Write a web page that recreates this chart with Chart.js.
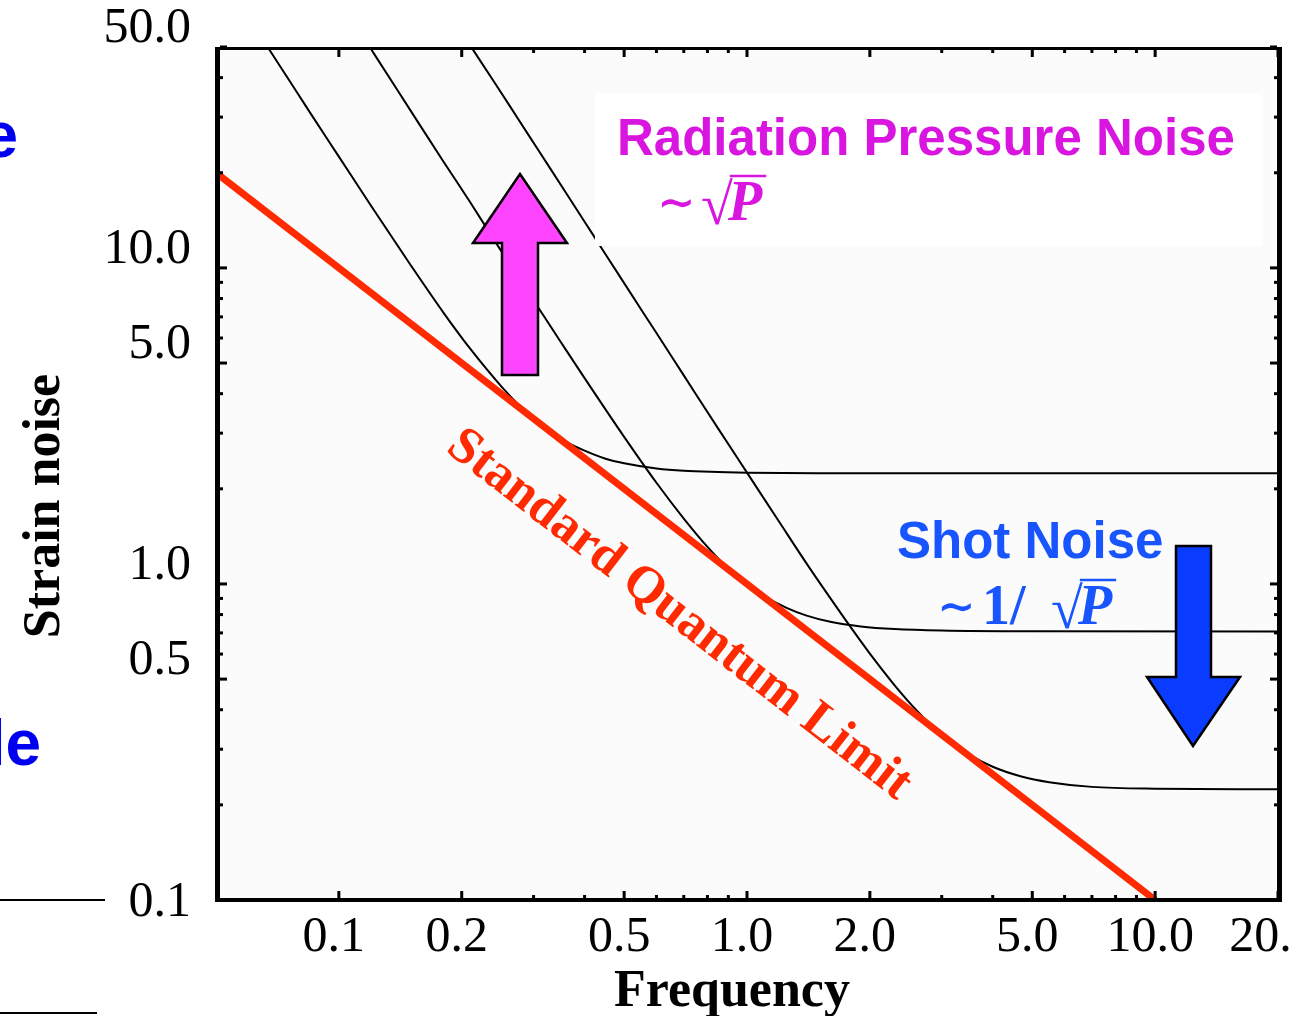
<!DOCTYPE html>
<html>
<head>
<meta charset="utf-8">
<title>Strain noise vs frequency</title>
<script src="https://cdn.jsdelivr.net/npm/chart.js@4.4.1/dist/chart.umd.min.js"></script>
<style>
    html, body { margin: 0; padding: 0; background: #fff; }
    #chart { display: block; }
</style>
</head>
<body>
<canvas id="chart" width="1292" height="1016"></canvas>
<script>
// Noise curves, one per laser power (high -> low shot level)
const freqHigh = [0.0669, 0.075, 0.085, 0.1, 0.12, 0.15, 0.18, 0.21, 0.25, 0.28, 0.32, 0.36, 0.4, 0.45, 0.5, 0.6, 0.7, 0.85, 1.0, 1.5, 2, 5, 20];
const noiseHigh = [50.0, 39.8, 31.0, 22.5, 15.7, 10.2, 7.25, 5.54, 4.22, 3.62, 3.13, 2.82, 2.64, 2.49, 2.41, 2.32, 2.28, 2.26, 2.25, 2.24, 2.24, 2.24, 2.24];

const freqMid = [0.119, 0.135, 0.155, 0.18, 0.21, 0.25, 0.3, 0.35, 0.4, 0.5, 0.6, 0.7, 0.8, 0.9, 1.0, 1.1, 1.25, 1.4, 1.6, 1.9, 2.3, 3, 5, 20];
const noiseMid = [50.0, 38.8, 29.4, 21.8, 16.1, 11.3, 7.89, 5.82, 4.48, 2.92, 2.09, 1.61, 1.31, 1.12, 1.00, 0.917, 0.840, 0.794, 0.759, 0.734, 0.720, 0.712, 0.708, 0.707];

const freqLow = [0.211, 0.24, 0.27, 0.31, 0.36, 0.42, 0.5, 0.6, 0.7, 0.85, 1.0, 1.2, 1.4, 1.6, 1.8, 2.0, 2.3, 2.6, 3.0, 3.5, 4, 4.7, 5.5, 7, 10, 20];
const noiseLow = [50.0, 38.8, 30.7, 23.3, 17.3, 12.7, 8.95, 6.22, 4.57, 3.10, 2.25, 1.57, 1.16, 0.902, 0.726, 0.602, 0.478, 0.399, 0.334, 0.289, 0.264, 0.246, 0.236, 0.228, 0.225, 0.224];

// Standard quantum limit
const sqlFreq = [0.05, 10];
const sqlNoise = [20, 0.1];

// Axis ticks
const xTicks = [0.1, 0.2, 0.5, 1, 2, 5, 10, 20];
const xTickLabels = ['0.1', '0.2', '0.5', '1.0', '2.0', '5.0', '10.0', '20.0'];
const xMinorTicks = [0.3, 0.4, 0.6, 0.7, 0.8, 0.9, 3, 4, 6, 7, 8, 9];
const yTicks = [0.1, 0.5, 1, 5, 10, 50];
const yTickLabels = ['0.1', '0.5', '1.0', '5.0', '10.0', '50.0'];
const yMinorTicks = [0.2, 0.3, 0.4, 0.6, 0.7, 0.8, 0.9, 2, 3, 4, 6, 7, 8, 9, 20, 30, 40];

const SERIF = '"Liberation Serif", "Times New Roman", serif';
const SANS = '"Liberation Sans", Arial, sans-serif';
const MAGENTA = '#d916e0';
const BLUE = '#1955ff';
const RED = '#ff2a00';

function toPoints(xs, ys) {
    return xs.map((x, i) => ({ x, y: ys[i] }));
}

function drawPolygon(ctx, pts, fill) {
    ctx.beginPath();
    pts.forEach(([x, y], i) => i ? ctx.lineTo(x, y) : ctx.moveTo(x, y));
    ctx.closePath();
    ctx.fillStyle = fill;
    ctx.fill();
    ctx.lineWidth = 2.5;
    ctx.strokeStyle = '#000';
    ctx.stroke();
}

// "∼ prefix √P" with the bar over P
function drawRootP(ctx, prefix, xTilde, xPrefix, xRoot, xP, base, color) {
    ctx.fillStyle = color;
    ctx.strokeStyle = color;
    ctx.textAlign = 'left';
    ctx.textBaseline = 'alphabetic';
    ctx.font = 'bold 46px "DejaVu Serif", serif';
    ctx.fillText('\u223C', xTilde, base - 2);
    if (prefix) {
        ctx.font = 'bold 56px ' + SERIF;
        ctx.fillText(prefix, xPrefix, base);
    }
    ctx.font = '58px ' + SERIF;
    ctx.fillText('\u221A', xRoot, base + 4);
    const rootW = ctx.measureText('\u221A').width;
    ctx.font = 'italic bold 56px ' + SERIF;
    ctx.fillText('P', xP, base);
    const pW = ctx.measureText('P').width;
    ctx.lineWidth = 2.5;
    ctx.beginPath();
    ctx.moveTo(xRoot + rootW - 3, base - 44);
    ctx.lineTo(xP + pW + 4, base - 44);
    ctx.stroke();
}

const decorations = {
    id: 'decorations',
    beforeDatasetsDraw(chart) {
        const { ctx, chartArea: a } = chart;
        ctx.save();
        ctx.fillStyle = '#fbfbfb';
        ctx.fillRect(a.left, a.top, a.right - a.left, a.bottom - a.top);
        ctx.restore();
    },
    afterDatasetsDraw(chart) {
        const { ctx, chartArea: a } = chart;
        const xs = chart.scales.x;
        const ys = chart.scales.y;
        ctx.save();

        // label box for radiation pressure noise
        ctx.fillStyle = '#ffffff';
        ctx.fillRect(595, 93, 667, 153);

        ctx.fillStyle = MAGENTA;
        ctx.font = 'bold 51px ' + SANS;
        ctx.textAlign = 'left';
        ctx.textBaseline = 'alphabetic';
        ctx.fillText('Radiation Pressure Noise', 617, 155);
        drawRootP(ctx, '', 657, 0, 701, 728, 220, MAGENTA);

        ctx.fillStyle = BLUE;
        ctx.font = 'bold 51px ' + SANS;
        ctx.fillText('Shot Noise', 897, 558);
        drawRootP(ctx, '1/', 937, 982, 1051, 1078, 624, BLUE);

        // arrows
        drawPolygon(ctx, [[502, 375], [538, 375], [538, 243], [567, 243], [520, 174], [473, 243], [502, 243]], '#ff44ff');
        drawPolygon(ctx, [[1176, 546], [1211, 546], [1211, 677], [1240, 677], [1193, 746], [1147, 677], [1176, 677]], '#0a3cff');

        // SQL label, rotated along the line
        const x0 = xs.getPixelForValue(sqlFreq[0]), y0 = ys.getPixelForValue(sqlNoise[0]);
        const x1 = xs.getPixelForValue(sqlFreq[1]), y1 = ys.getPixelForValue(sqlNoise[1]);
        ctx.save();
        ctx.translate(679, 615);
        ctx.rotate(Math.atan2(y1 - y0, x1 - x0));
        ctx.fillStyle = RED;
        ctx.font = 'bold 52px ' + SERIF;
        ctx.textAlign = 'center';
        ctx.textBaseline = 'middle';
        ctx.fillText('Standard Quantum Limit', 0, 0);
        ctx.restore();

        // frame
        ctx.fillStyle = '#000';
        ctx.fillRect(a.left - 1, a.top, 5, a.bottom - a.top + 2);
        ctx.fillRect(a.right - 1, a.top, 5, a.bottom - a.top + 2);
        ctx.fillRect(a.left, a.top, a.right - a.left, 3);
        ctx.fillRect(a.left, a.bottom - 2, a.right - a.left + 2, 4);

        // inward ticks on all four sides
        const yTick = (v, len) => {
            const py = ys.getPixelForValue(v);
            ctx.fillRect(a.left + 4, py - 1.5, len, 3);
            ctx.fillRect(a.right - 1 - len, py - 1.5, len, 3);
        };
        const xTick = (v, len) => {
            const px = xs.getPixelForValue(v);
            ctx.fillRect(px - 1.5, a.bottom - 2 - len, 3, len);
            ctx.fillRect(px - 1.5, a.top + 3, 3, len);
        };
        yTicks.forEach(v => yTick(v, 7));
        yMinorTicks.forEach(v => yTick(v, 3));
        xTicks.forEach(v => xTick(v, 7));
        xMinorTicks.forEach(v => xTick(v, 3));

        ctx.restore();
    },
    afterDraw(chart) {
        const { ctx } = chart;
        ctx.save();
        ctx.fillStyle = '#000';
        ctx.font = 'bold 52px ' + SERIF;
        ctx.textAlign = 'center';
        ctx.textBaseline = 'alphabetic';
        ctx.fillText('Frequency', 732, 1006);

        ctx.save();
        ctx.translate(59, 506);
        ctx.rotate(-Math.PI / 2);
        ctx.fillText('Strain noise', 0, 0);
        ctx.restore();

        // bits of the neighbouring slide cut off at the left edge
        ctx.fillStyle = '#0000f0';
        ctx.font = 'bold 64px ' + SANS;
        ctx.textAlign = 'right';
        ctx.fillText('e', 18, 157);
        ctx.fillText('le', 41, 765);
        ctx.fillStyle = '#000';
        ctx.fillRect(0, 899, 105, 2);
        ctx.fillRect(0, 1012, 97, 2);
        ctx.restore();
    }
};

new Chart(document.getElementById('chart'), {
    type: 'line',
    data: {
        datasets: [
            {
                data: toPoints(sqlFreq, sqlNoise),
                borderColor: RED,
                borderWidth: 7,
                pointRadius: 0
            },
            {
                data: toPoints(freqHigh, noiseHigh),
                borderColor: '#000',
                borderWidth: 2,
                pointRadius: 0,
                cubicInterpolationMode: 'monotone'
            },
            {
                data: toPoints(freqMid, noiseMid),
                borderColor: '#000',
                borderWidth: 2,
                pointRadius: 0,
                cubicInterpolationMode: 'monotone'
            },
            {
                data: toPoints(freqLow, noiseLow),
                borderColor: '#000',
                borderWidth: 2,
                pointRadius: 0,
                cubicInterpolationMode: 'monotone'
            }
        ]
    },
    options: {
        responsive: false,
        animation: false,
        events: [],
        layout: { padding: { top: 47, right: 14, left: 0, bottom: 0 } },
        plugins: {
            legend: { display: false },
            tooltip: { enabled: false }
        },
        scales: {
            x: {
                type: 'logarithmic',
                min: 0.05,
                max: 20,
                grid: { display: false, drawTicks: false },
                border: { display: false },
                afterBuildTicks: s => { s.ticks = xTicks.map(v => ({ value: v })); },
                afterFit: s => { s.height = 116; s.paddingLeft = 0; s.paddingRight = 0; },
                ticks: {
                    autoSkip: false,
                    maxRotation: 0,
                    padding: 8,
                    labelOffset: -5,
                    color: '#000',
                    font: { family: SERIF, size: 50 },
                    callback: (v, i) => xTickLabels[i]
                }
            },
            y: {
                type: 'logarithmic',
                min: 0.1,
                max: 50,
                grid: { display: false, drawTicks: false },
                border: { display: false },
                afterBuildTicks: s => { s.ticks = yTicks.map(v => ({ value: v })); },
                afterFit: s => { s.width = 216; s.paddingTop = 0; s.paddingBottom = 0; },
                ticks: {
                    autoSkip: false,
                    padding: 25,
                    labelOffset: -18,
                    color: '#000',
                    font: { family: SERIF, size: 50, lineHeight: '42px' },
                    // labels sit above their tick, except the bottom one which is centred on it
                    callback: (v, i) => i === 0 ? ['', yTickLabels[i]] : yTickLabels[i]
                }
            }
        }
    },
    plugins: [decorations]
});
</script>
</body>
</html>
